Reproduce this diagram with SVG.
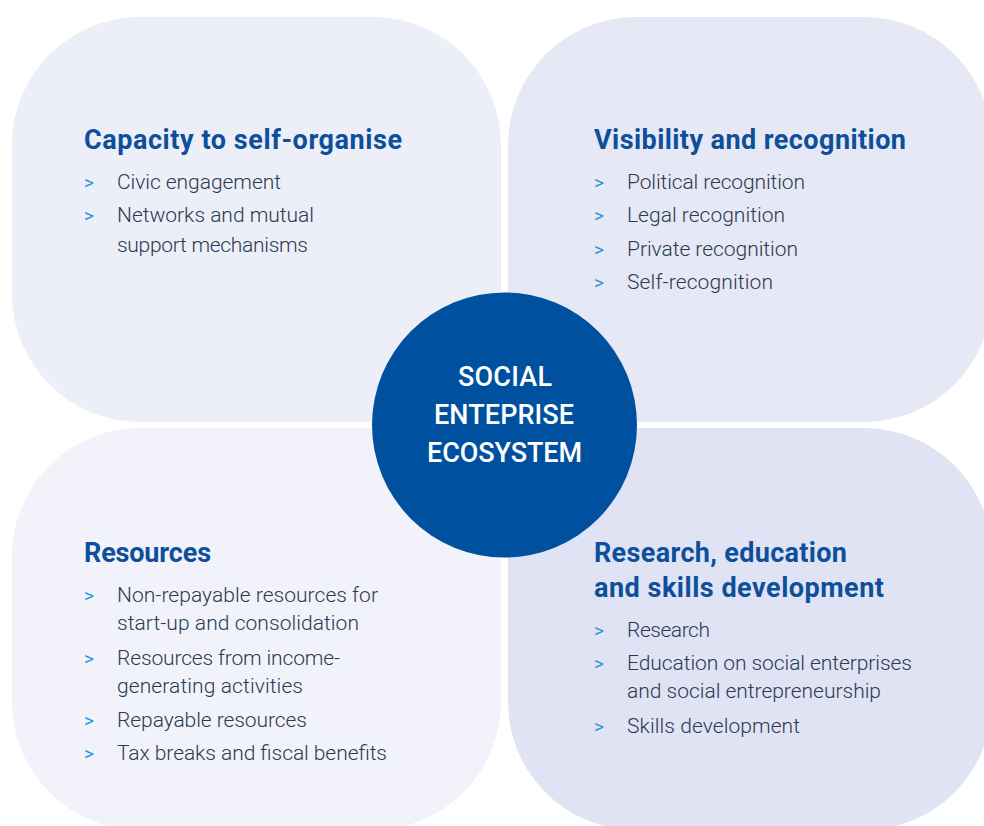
<svg xmlns="http://www.w3.org/2000/svg" width="984" height="826" viewBox="0 0 984 826">
<style>
.h{font-family:Roboto,"Liberation Sans",sans-serif;font-weight:700;font-size:27px;fill:#0d4f9a}
.b{font-family:Roboto,"Liberation Sans",sans-serif;font-weight:300;font-size:21px;fill:#2b3a50}
.g{font-family:Roboto,"Liberation Sans",sans-serif;font-weight:400;font-size:19px;fill:#1f93dd}
.c{font-family:Roboto,"Liberation Sans",sans-serif;font-weight:500;font-size:27px;fill:#ffffff;text-anchor:middle}
</style>
<rect width="984" height="826" fill="#ffffff"/>
<g id="capacity">
<rect x="12" y="17" width="489" height="405" rx="128" ry="128" fill="#eceef8"/>
<text class="h" x="84" y="149" textLength="318">Capacity to self-organise</text>
<text class="g" x="84" y="189">&gt;</text><text class="b" x="117" y="189" textLength="164">Civic engagement</text>
<text class="g" x="84" y="222">&gt;</text><text class="b" x="117" y="222" textLength="197">Networks and mutual</text>
<text class="b" x="117" y="252" textLength="191">support mechanisms</text>
</g>
<g id="visibility">
<rect x="508" y="17" width="484" height="405" rx="128" ry="128" fill="#e6e8f5"/>
<text class="h" x="594" y="149" textLength="312">Visibility and recognition</text>
<text class="g" x="594" y="189">&gt;</text><text class="b" x="627" y="189" textLength="178">Political recognition</text>
<text class="g" x="594" y="222">&gt;</text><text class="b" x="627" y="222" textLength="158">Legal recognition</text>
<text class="g" x="594" y="256">&gt;</text><text class="b" x="627" y="256" textLength="171">Private recognition</text>
<text class="g" x="594" y="289">&gt;</text><text class="b" x="627" y="289" textLength="146">Self-recognition</text>
</g>
<g id="resources">
<rect x="12" y="428" width="489" height="402" rx="128" ry="128" fill="#f2f3fa"/>
<text class="h" x="84" y="562" textLength="127">Resources</text>
<text class="g" x="84" y="602">&gt;</text><text class="b" x="117" y="602" textLength="261">Non-repayable resources for</text>
<text class="b" x="117" y="630" textLength="242">start-up and consolidation</text>
<text class="g" x="84" y="665">&gt;</text><text class="b" x="117" y="665" textLength="223">Resources from income-</text>
<text class="b" x="117" y="693" textLength="186">generating activities</text>
<text class="g" x="84" y="727">&gt;</text><text class="b" x="117" y="727" textLength="190">Repayable resources</text>
<text class="g" x="84" y="760">&gt;</text><text class="b" x="117" y="760" textLength="270">Tax breaks and fiscal benefits</text>
</g>
<g id="research">
<rect x="508" y="428" width="484" height="402" rx="128" ry="128" fill="#e0e3f3"/>
<text class="h" x="594" y="562" textLength="253">Research, education</text>
<text class="h" x="594" y="597" textLength="290">and skills development</text>
<text class="g" x="594" y="637">&gt;</text><text class="b" x="627" y="637" textLength="83">Research</text>
<text class="g" x="594" y="670">&gt;</text><text class="b" x="627" y="670" textLength="285">Education on social enterprises</text>
<text class="b" x="627" y="698" textLength="254">and social entrepreneurship</text>
<text class="g" x="594" y="733">&gt;</text><text class="b" x="627" y="733" textLength="173">Skills development</text>
</g>
<g id="center">
<circle cx="504.5" cy="425" r="132.5" fill="#0050a0"/>
<text class="c" x="505" y="386" textLength="94">SOCIAL</text>
<text class="c" x="504" y="424" textLength="140">ENTEPRISE</text>
<text class="c" x="504.5" y="462" textLength="155">ECOSYSTEM</text>
</g>
<g id="connectors"></g>
</svg>
